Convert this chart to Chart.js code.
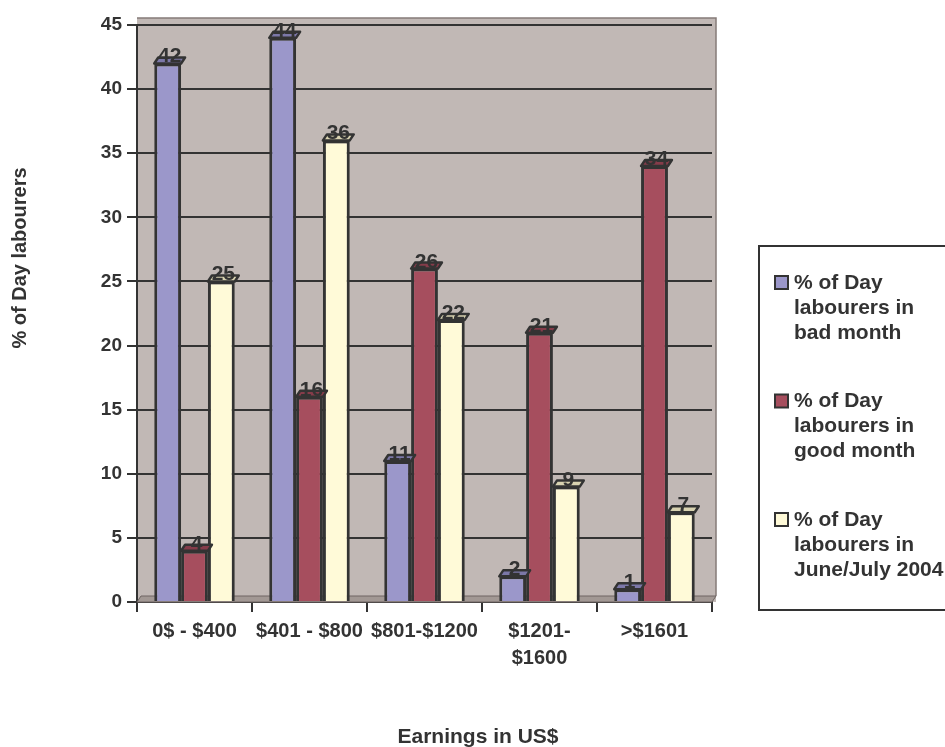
<!DOCTYPE html>
<html>
<head>
<meta charset="utf-8">
<script src="https://cdn.jsdelivr.net/npm/chart.js@4.4.1/dist/chart.umd.min.js"></script>
<style>
  body { margin: 0; background: #fff; }
  #wrap { width: 945px; height: 747px; }
</style>
</head>
<body>
<div id="wrap"><canvas id="chart" width="945" height="747"></canvas></div>
<script>
// data
const categories = ['0$ - $400', '$401 - $800', '$801-$1200', ['$1201-', '$1600'], '>$1601'];
const badMonth = [42, 44, 11, 2, 1];
const goodMonth = [4, 16, 26, 21, 34];
const juneJuly = [25, 36, 22, 9, 7];
const seriesNames = [
  ['% of Day', 'labourers in', 'bad month'],
  ['% of Day', 'labourers in', 'good month'],
  ['% of Day', 'labourers in', 'June/July 2004']
];
const yMin = 0, yMax = 45, yStep = 5;
const xTitle = 'Earnings in US$';
const yTitle = '% of Day labourers';

const FONT = '"Liberation Sans", Arial, sans-serif';
const INK = '#333333';
const fills = ['#9b97ca', '#a64e5e', '#fffad8'];
const tops = ['#7c78a8', '#853c4a', '#d8d2b0'];
const DX = 4, DY = 6; // 3d depth of the bars

// wall, floor and 3d tops + value labels
const look3d = {
  id: 'look3d',
  beforeDraw(chart) {
    const { ctx, chartArea: a } = chart;
    ctx.save();
    ctx.fillStyle = '#c1b8b5';
    ctx.fillRect(a.left, a.top - DY - 1, a.right - a.left + DX, a.bottom - a.top + DY + 1);
    ctx.strokeStyle = '#857b78';
    ctx.lineWidth = 1.5;
    ctx.beginPath();
    ctx.moveTo(a.left, a.top - DY - 1);
    ctx.lineTo(a.right + DX, a.top - DY - 1);
    ctx.lineTo(a.right + DX, a.bottom - DY);
    ctx.stroke();
    ctx.restore();
  },
  beforeDatasetsDraw(chart) {
    const { ctx, chartArea: a } = chart;
    ctx.save();
    // floor
    ctx.fillStyle = '#a29894';
    ctx.strokeStyle = '#6e6562';
    ctx.lineWidth = 1;
    ctx.beginPath();
    ctx.moveTo(a.left, a.bottom);
    ctx.lineTo(a.left + DX, a.bottom - DY);
    ctx.lineTo(a.right + DX, a.bottom - DY);
    ctx.lineTo(a.right, a.bottom);
    ctx.closePath();
    ctx.fill();
    ctx.stroke();
    ctx.restore();
  },
  afterDatasetsDraw(chart) {
    const { ctx } = chart;
    ctx.save();
    chart.data.datasets.forEach((ds, i) => {
      chart.getDatasetMeta(i).data.forEach((bar, j) => {
        const l = bar.x - bar.width / 2, r = bar.x + bar.width / 2, y = bar.y;
        ctx.fillStyle = tops[i];
        ctx.strokeStyle = INK;
        ctx.lineWidth = 2.5;
        ctx.lineJoin = 'round';
        ctx.beginPath();
        ctx.moveTo(l, y);
        ctx.lineTo(l + DX, y - DY);
        ctx.lineTo(r + DX, y - DY);
        ctx.lineTo(r, y);
        ctx.closePath();
        ctx.fill();
        ctx.stroke();
        ctx.fillStyle = INK;
        ctx.font = 'bold 21px ' + FONT;
        ctx.textAlign = 'center';
        ctx.textBaseline = 'alphabetic';
        ctx.fillText(ds.data[j], bar.x + 2, y - 1);
      });
    });
    ctx.restore();
  },
  afterDraw(chart) {
    const { ctx } = chart;
    ctx.save();
    ctx.fillStyle = INK;
    ctx.font = 'bold 21px ' + FONT;
    ctx.textAlign = 'center';
    ctx.textBaseline = 'middle';
    ctx.fillText(xTitle, 478, 737);
    ctx.font = 'bold 20px ' + FONT;
    ctx.translate(20, 258);
    ctx.rotate(-Math.PI / 2);
    ctx.fillText(yTitle, 0, 0);
    ctx.restore();

    // legend box
    ctx.save();
    ctx.strokeStyle = INK;
    ctx.lineWidth = 2;
    ctx.strokeRect(759, 246, 200, 364);
    ctx.font = 'bold 21px ' + FONT;
    ctx.textAlign = 'left';
    ctx.textBaseline = 'middle';
    seriesNames.forEach((lines, i) => {
      const y0 = 283 + i * 118.5;
      ctx.fillStyle = fills[i];
      ctx.fillRect(775, y0 - 7, 13, 13);
      ctx.strokeRect(775, y0 - 7, 13, 13);
      ctx.fillStyle = INK;
      lines.forEach((t, k) => ctx.fillText(t, 794, y0 + k * 25));
    });
    ctx.restore();
  }
};

const makeSet = (label, data, i) => ({
  label: label.join(' '),
  data: data,
  backgroundColor: fills[i],
  borderColor: INK,
  borderWidth: 3,
  borderSkipped: 'bottom',
  categoryPercentage: 0.7,
  barPercentage: 1.0
});

new Chart(document.getElementById('chart'), {
  type: 'bar',
  data: {
    labels: categories,
    datasets: [
      makeSet(seriesNames[0], badMonth, 0),
      makeSet(seriesNames[1], goodMonth, 1),
      makeSet(seriesNames[2], juneJuly, 2)
    ]
  },
  options: {
    responsive: false,
    devicePixelRatio: 1,
    animation: false,
    layout: { padding: { left: 0, top: 25, right: 233, bottom: 0 } },
    plugins: { legend: { display: false }, tooltip: { enabled: false } },
    scales: {
      x: {
        afterFit: s => { s.height = 145; },
        grid: { drawOnChartArea: false, drawTicks: true, tickLength: 10, color: INK, lineWidth: 2 },
        border: { color: INK, width: 2 },
        ticks: { color: INK, font: { family: FONT, size: 20, weight: 'bold', lineHeight: 1.35 }, padding: 6, maxRotation: 0, autoSkip: false }
      },
      y: {
        min: yMin,
        max: yMax,
        afterFit: s => { s.width = 137; },
        grid: { color: INK, lineWidth: 2, tickLength: 10 },
        border: { color: INK, width: 2 },
        ticks: { stepSize: yStep, color: INK, font: { family: FONT, size: 19, weight: 'bold' }, padding: 5 }
      }
    }
  },
  plugins: [look3d]
});
</script>
</body>
</html>
